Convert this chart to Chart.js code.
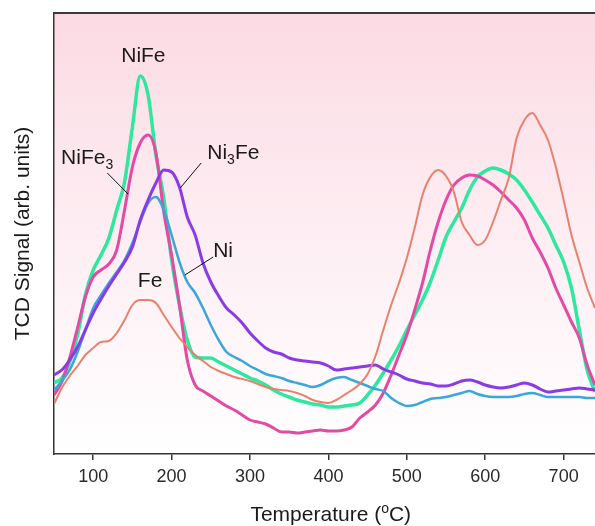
<!DOCTYPE html>
<html>
<head>
<meta charset="utf-8">
<script src="https://cdn.jsdelivr.net/npm/chart.js@4.4.1/dist/chart.umd.min.js"></script>
<style>
  html, body { margin: 0; padding: 0; background: #fff; }
  #wrap { width: 595px; height: 526px; }
</style>
</head>
<body>
<div id="wrap"><canvas id="tpr" width="595" height="526"></canvas></div>
<script>
// temperature (°C) of every reading
const temps = [50,60,70,80,90,100,110,120,130,140,150,160,170,180,190,200,210,220,230,240,
  250,260,270,280,290,300,310,320,330,340,350,360,370,380,390,400,410,420,430,440,
  450,460,470,480,490,500,510,520,530,540,550,560,570,580,590,600,610,620,630,640,
  650,660,670,680,690,700,710,720,730,740];
const xTicks = [100, 200, 300, 400, 500, 600, 700];

// TCD signal, arb. units
const nife = [71,76,92,119,159,184,199,216,244,272,327,378,359,299,256,194,149,114,97,96,
  96,92,88,84,80,76,73,69,64,60,57,54,52,50,49,47,47,48,49,51,
  59,69,81,94,108,124,139,154,172,194,217,232,246,264,277,283,286,284,280,274,
  264,252,239,226,209,192,166,124,84,62];
const nife3 = [59,72,96,126,157,177,184,190,204,244,287,311,319,301,242,199,149,94,69,63,
  58,53,48,44,39,34,32,30,26,22,22,21,22,23,24,23,23,24,27,36,
  42,49,61,79,99,119,144,171,204,232,254,269,276,279,278,274,269,262,254,246,
  234,216,202,186,166,149,132,116,89,69];
const ni3fe = [79,84,94,107,124,141,155,168,180,192,207,234,254,271,284,282,267,237,219,191,
  172,158,146,139,131,121,113,106,102,100,96,94,93,92,91,88,84,85,86,87,
  88,89,85,82,79,75,73,71,70,68,68,70,73,74,72,69,67,66,67,69,
  71,69,65,62,63,64,65,66,65,64];
const ni = [64,73,84,102,124,146,159,171,182,194,211,232,251,257,244,219,192,172,161,146,
  129,114,102,97,93,88,84,80,78,76,73,71,69,67,69,73,76,77,74,71,
  68,65,63,56,51,48,49,52,55,56,57,59,61,63,60,58,57,57,57,58,
  60,61,59,57,57,57,57,57,56,56];
const fe = [50,66,78,88,99,106,112,113,121,134,149,154,154,151,139,127,116,107,99,93,
  87,83,80,77,75,73,70,67,65,64,63,61,58,54,52,51,54,59,64,70,
  80,98,124,149,171,196,226,259,277,284,278,262,232,219,209,214,232,254,276,316,
  334,341,329,314,287,254,219,192,166,146];

// curve labels, placed in data units: [text, subscript?]
const curveLabels = [
  { parts: [['NiFe', 0]], x: 164, y: 398, align: 'center' },
  { parts: [['NiFe', 0], ['3', 1]], x: 59, y: 296, align: 'left', lead: [118, 281, 144.5, 260] },
  { parts: [['Ni', 0], ['3', 1], ['Fe', 0]], x: 245.5, y: 301, align: 'left', lead: [237.7, 291, 211, 266] },
  { parts: [['Ni', 0]], x: 253, y: 203, align: 'left', lead: [253, 197, 217, 179] },
  { parts: [['Fe', 0]], x: 172.6, y: 173, align: 'center' }
];

const FONT = "'Liberation Sans', Arial, sans-serif";

function series(vals) {
  return temps.map((t, i) => ({ x: t, y: vals[i] }));
}

function line(label, vals, color, width) {
  return {
    label: label,
    data: series(vals),
    borderColor: color,
    borderWidth: width,
    pointRadius: 0,
    fill: false,
    cubicInterpolationMode: 'monotone'
  };
}

const decor = {
  id: 'decor',
  beforeDraw(chart) {
    const { ctx, chartArea: a } = chart;
    const g = ctx.createLinearGradient(0, a.top, 0, a.bottom);
    g.addColorStop(0, '#fcdae4');
    g.addColorStop(0.45, '#fdecf1');
    g.addColorStop(1, '#ffffff');
    ctx.save();
    ctx.fillStyle = g;
    ctx.fillRect(a.left, a.top, a.right - a.left, a.bottom - a.top);
    ctx.restore();
  },
  afterDraw(chart) {
    const { ctx, chartArea: a, scales } = chart;
    const xs = scales.x, ys = scales.y;
    ctx.save();
    // top frame line
    ctx.strokeStyle = '#3a3a3a';
    ctx.lineWidth = 2;
    ctx.beginPath();
    ctx.moveTo(a.left, a.top);
    ctx.lineTo(a.right, a.top);
    ctx.stroke();

    // curve labels
    ctx.fillStyle = '#1a1a1a';
    ctx.textBaseline = 'middle';
    curveLabels.forEach(l => {
      let w = 0;
      l.parts.forEach(p => {
        ctx.font = (p[1] ? '14px ' : '21px ') + FONT;
        w += ctx.measureText(p[0]).width;
      });
      let px = xs.getPixelForValue(l.x);
      const py = ys.getPixelForValue(l.y);
      if (l.align === 'center') px -= w / 2;
      ctx.textAlign = 'left';
      l.parts.forEach(p => {
        ctx.font = (p[1] ? '14px ' : '21px ') + FONT;
        ctx.fillText(p[0], px, p[1] ? py + 7 : py);
        px += ctx.measureText(p[0]).width;
      });
      if (l.lead) {
        ctx.strokeStyle = '#111';
        ctx.lineWidth = 1;
        ctx.beginPath();
        ctx.moveTo(xs.getPixelForValue(l.lead[0]), ys.getPixelForValue(l.lead[1]));
        ctx.lineTo(xs.getPixelForValue(l.lead[2]), ys.getPixelForValue(l.lead[3]));
        ctx.stroke();
      }
    });

    // x axis title with superscript
    const base = 521;
    ctx.textBaseline = 'alphabetic';
    ctx.font = '21px ' + FONT;
    const a1 = 'Temperature (', a3 = 'C)';
    const w1 = ctx.measureText(a1).width, w3 = ctx.measureText(a3).width;
    ctx.font = '14px ' + FONT;
    const w2 = ctx.measureText('o').width;
    let tx = xs.getPixelForValue(403) - (w1 + w2 + w3) / 2;
    ctx.font = '21px ' + FONT;
    ctx.fillText(a1, tx, base);
    tx += w1;
    ctx.font = '14px ' + FONT;
    ctx.fillText('o', tx, base - 8);
    tx += w2;
    ctx.font = '21px ' + FONT;
    ctx.fillText(a3, tx, base);
    ctx.restore();
  }
};

new Chart(document.getElementById('tpr'), {
  type: 'line',
  data: {
    datasets: [
      line('Fe', fe, '#e8806e', 2),
      line('Ni3Fe', ni3fe, '#8a3be6', 3),
      line('Ni', ni, '#3ba6dc', 2.5),
      line('NiFe3', nife3, '#e24aa4', 3),
      line('NiFe', nife, '#2de89e', 3.5)
    ]
  },
  options: {
    responsive: false,
    animation: false,
    layout: { padding: { top: 13, left: 0, right: 0, bottom: 0 } },
    plugins: { legend: { display: false }, tooltip: { enabled: false } },
    scales: {
      x: {
        type: 'linear',
        min: 50,
        max: 740,
        afterBuildTicks: s => { s.ticks = xTicks.map(v => ({ value: v })); },
        afterFit: s => { s.height = 72; },
        ticks: { color: '#2a2a2a', font: { family: FONT, size: 18 }, padding: 6, maxRotation: 0 },
        grid: { drawOnChartArea: false, drawTicks: true, tickLength: 6, color: '#333', lineWidth: 1.5 },
        border: { display: true, color: '#333', width: 1.5 }
      },
      y: {
        min: 0,
        max: 441,
        afterFit: s => { s.width = 54; },
        ticks: { display: false },
        grid: { display: false },
        border: { display: true, color: '#333', width: 1.5 },
        title: { display: true, text: 'TCD Signal (arb. units)', color: '#1a1a1a', font: { family: FONT, size: 21 }, padding: { top: 11 } }
      }
    }
  },
  plugins: [decor]
});
</script>
</body>
</html>
